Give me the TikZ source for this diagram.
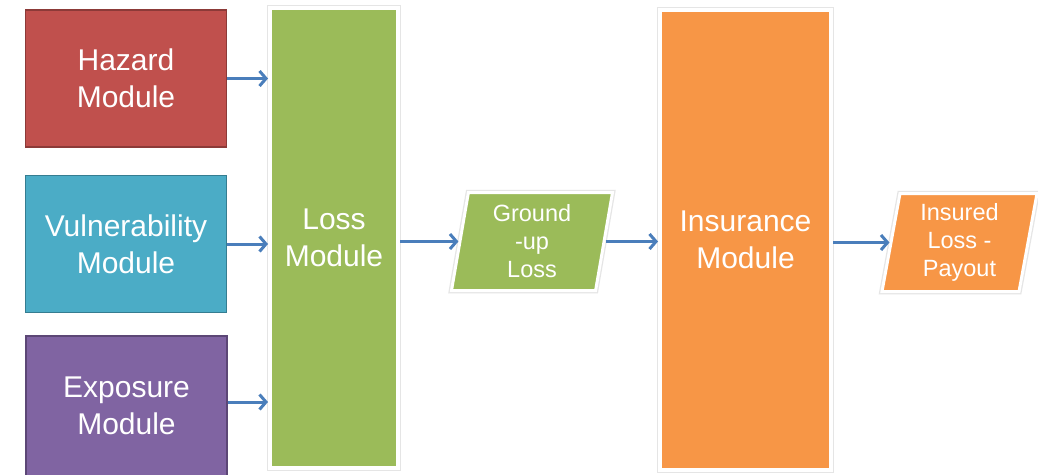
\documentclass[tikz,border=0pt]{standalone}
\usepackage{fontspec}
\setmainfont{Liberation Sans}
\usetikzlibrary{arrows.meta,shapes.geometric}
\definecolor{hazardred}{HTML}{C0504D}
\definecolor{hazardedge}{HTML}{8C3A38}
\definecolor{vulnblue}{HTML}{4BACC6}
\definecolor{vulnedge}{HTML}{357D91}
\definecolor{exppurple}{HTML}{8064A2}
\definecolor{expedge}{HTML}{5C4776}
\definecolor{lossgreen}{HTML}{9BBB59}
\definecolor{insorange}{HTML}{F79646}
\definecolor{flowblue}{HTML}{4A7EBB}
\begin{document}
\begin{tikzpicture}[x=1pt,y=-1pt,
  module/.style={rectangle, inner sep=0pt, align=center, text=white,
    font=\fontsize{30}{37}\selectfont},
  inputbox/.style={module, minimum width=201pt, minimum height=137pt, line width=1.5pt},
  halo/.style={preaction={draw=black!10, line width=#1}},
  tallbox/.style={module, draw=white, line width=4pt, halo=6.5pt},
  dataflow/.style={trapezium, trapezium left angle=77, trapezium right angle=103,
    trapezium stretches body, inner sep=0pt, align=center, text=white,
    font=\fontsize{23.5}{28}\selectfont, draw=white, line width=3pt, halo=5.5pt,
    minimum height=98pt},
  flow/.style={draw=flowblue, line width=3pt, -{Straight Barb[length=6.5pt,width=15pt]}}
]
\useasboundingbox (0,0) rectangle (1038,474);
\fill[white] (0,0) rectangle (1038,474);

% input modules
\node[inputbox, fill=hazardred, draw=hazardedge] (haz) at (126,78.5) {Hazard\\Module};
\node[inputbox, fill=vulnblue, draw=vulnedge] (vul) at (126,244) {Vulnerability\\Module};
\node[inputbox, fill=exppurple, draw=expedge, minimum height=140pt] (exp) at (126.5,406) {Exposure\\Module};

% main processing modules
\node[tallbox, fill=lossgreen, minimum width=128pt, minimum height=460pt] (loss) at (334,238) {Loss\\Module};
\node[tallbox, fill=insorange, minimum width=171pt, minimum height=460pt] (ins) at (745.5,240) {Insurance\\Module};

% intermediate results
\node[dataflow, fill=lossgreen, minimum width=161pt] (gup) at (532,241.5) {Ground\\-up\\Loss};
\node[dataflow, fill=insorange, minimum width=155pt] (paid) at (959.5,242.5) {Insured\\Loss -\\Payout};

% flows
\draw[flow] (haz.east) -- (haz.east -| loss.west);
\draw[flow] (vul.east) -- (vul.east -| loss.west);
\draw[flow] ([yshift=4pt]exp.east) -- ([yshift=4pt]exp.east -| loss.west);
\draw[flow] (loss.east |- gup.west) -- (gup.west);
\draw[flow] (gup.east) -- (gup.east -| ins.west);
\draw[flow] (ins.east |- paid.west) -- (paid.west);
\end{tikzpicture}
\end{document}
